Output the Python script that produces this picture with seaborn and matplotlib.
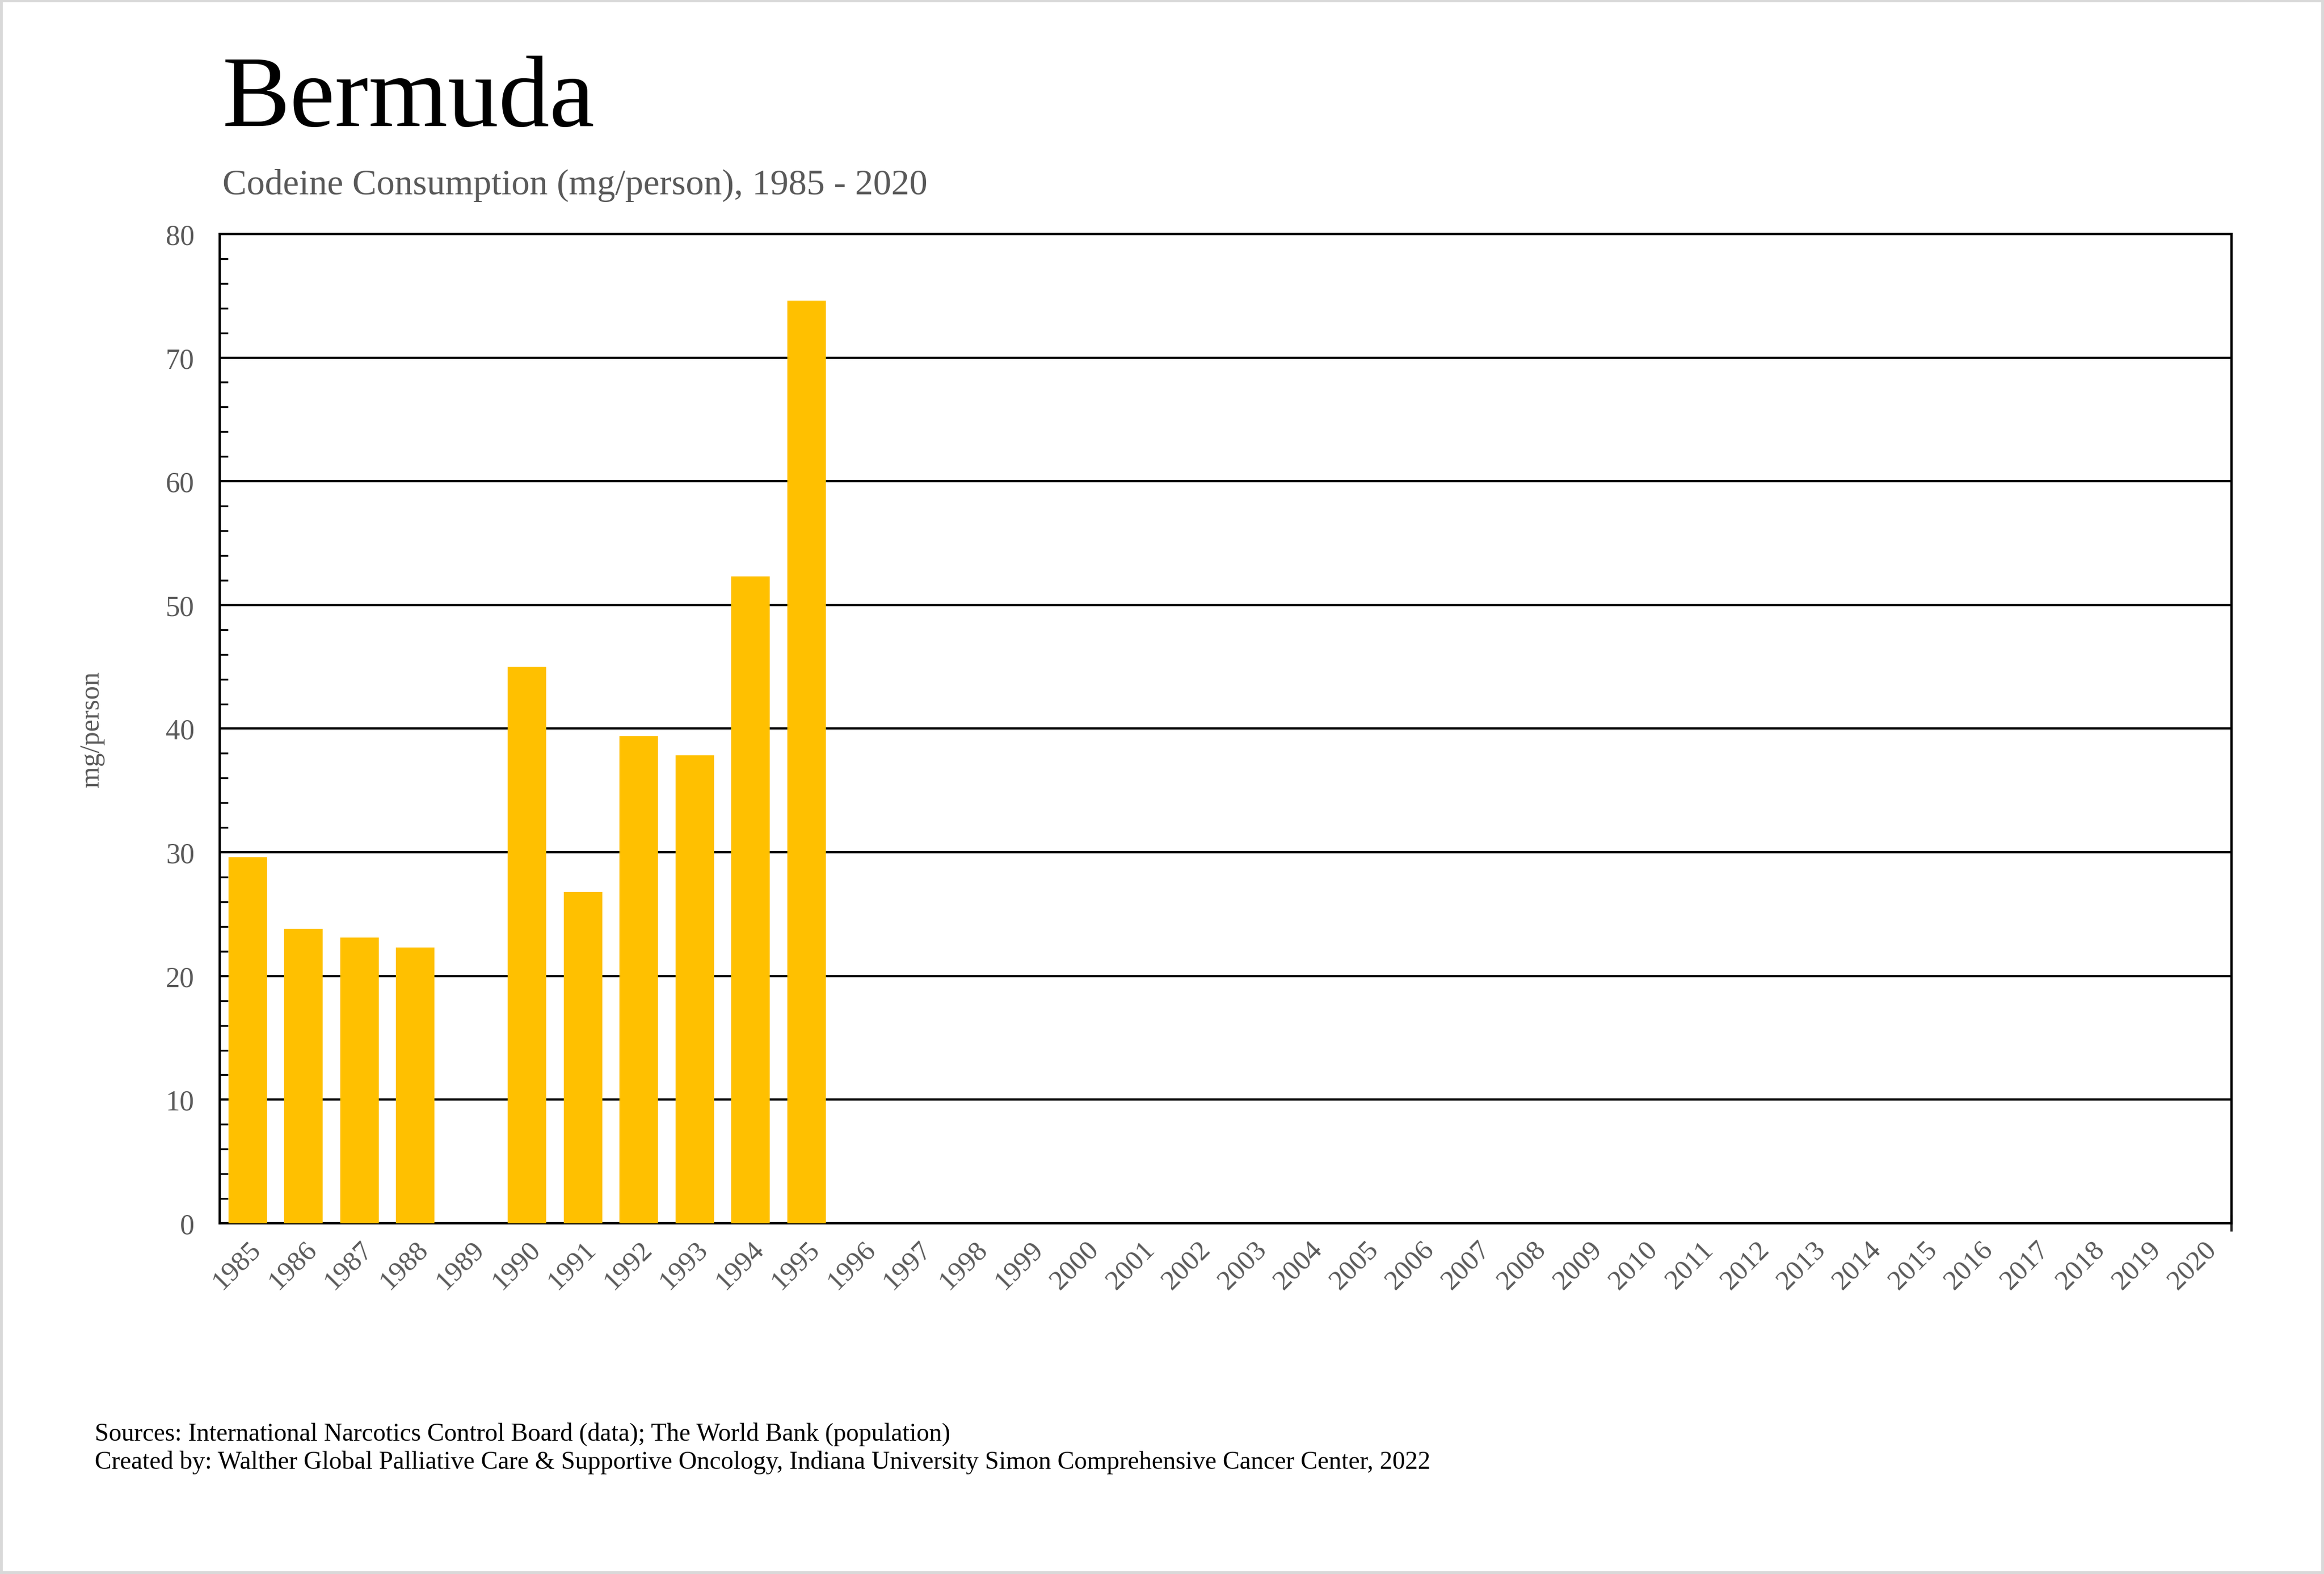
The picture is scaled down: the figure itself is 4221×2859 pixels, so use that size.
import matplotlib
matplotlib.use('Agg')
import matplotlib.pyplot as plt
import seaborn as sns
import numpy as np
import pandas as pd
from matplotlib.patches import Rectangle

# data (mg/person); NaN = no bar
years = [str(y) for y in range(1985, 2021)]
consumption = [29.6, 23.8, 23.1, 22.3, np.nan, 45.0, 26.8, 39.4, 37.85, 52.3, 74.6] + [np.nan] * 25

title = 'Bermuda'
subtitle = 'Codeine Consumption (mg/person), 1985 - 2020'
ylabel = 'mg/person'
footer = ['Sources: International Narcotics Control Board (data); The World Bank (population)',
          'Created by: Walther Global Palliative Care & Supportive Oncology, Indiana University Simon Comprehensive Cancer Center, 2022']

df = pd.DataFrame({'year': years, 'value': consumption})

sns.set_style('white')
plt.rcParams['font.family'] = ['Liberation Serif', 'DejaVu Serif']
grey = '#595959'

fig = plt.figure(figsize=(14.07, 9.5333), dpi=300)
ax = fig.add_axes([0.0945, 0.2227, 0.8657, 0.6284])

sns.barplot(data=df, x='year', y='value', order=years, color='#FFC000',
            saturation=1, width=0.69, errorbar=None, linewidth=0, ax=ax, zorder=3)

ax.set_xlim(-0.5, 35.5)
ax.set_ylim(0, 80)
ax.set_yticks(np.arange(0, 81, 10))
ax.set_yticks(np.arange(0, 81, 2), minor=True)
ax.grid(axis='y', which='major', color='black', linewidth=1.0, zorder=0)
ax.set_axisbelow(True)

for sp in ax.spines.values():
    sp.set_visible(True)
    sp.set_color('black')
    sp.set_linewidth(1.0)

ax.tick_params(axis='y', which='major', direction='out', length=4, width=1,
               color='black', labelsize=12.5, labelcolor=grey, pad=7)
ax.tick_params(axis='y', which='minor', direction='in', length=3.5, width=0.8,
               color='black', left=True)
ax.tick_params(axis='x', which='major', direction='inout', length=7, width=1,
               color='black', labelsize=12.3, labelcolor=grey, pad=2)
ax.set_xticks(range(len(years)))
ax.set_xticklabels(years, rotation=45, ha='right', rotation_mode='anchor')
ax.set_xticks([35.5], minor=True)
ax.tick_params(axis='x', which='minor', direction='inout', length=7, width=1, bottom=True)

ax.set_xlabel('')
ax.set_ylabel('')

fig.text(0.0396, 0.537, ylabel, rotation=90, ha='center', va='center',
         fontsize=12, color=grey)
fig.text(0.0957, 0.92, title, ha='left', va='baseline', fontsize=44.3, color='black')
fig.text(0.0957, 0.8766, subtitle, ha='left', va='baseline', fontsize=15.8, color=grey)
fig.text(0.0408, 0.085, footer[0], ha='left', va='baseline', fontsize=11.05, color='black')
fig.text(0.0408, 0.067, footer[1], ha='left', va='baseline', fontsize=11.05, color='black')

# light frame around the whole picture
fig.patches.append(Rectangle((0.0005, 0.0007), 0.999, 0.9986, transform=fig.transFigure,
                             fill=False, edgecolor='#d9d9d9', linewidth=1.5))

fig.savefig('out.png', dpi=300, facecolor='white')
